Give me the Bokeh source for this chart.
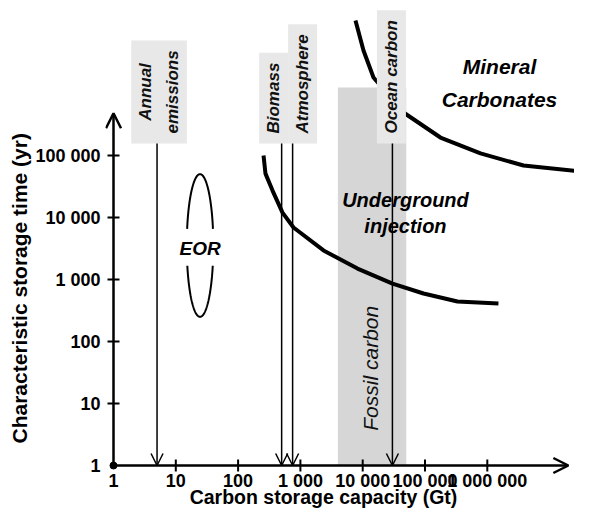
import numpy as np
from bokeh.plotting import figure
from bokeh.models import FixedTicker, Arrow, OpenHead, Title, ColumnDataSource
from bokeh.core.properties import value
from bokeh.embed import file_html
from bokeh.resources import INLINE

# ---------------- data ----------------
x_ticks = [1, 10, 100, 1000, 10000, 100000, 1000000]
x_tick_labels = ["1", "10", "100", "1 000", "10 000", "100 000", "1 000 000"]
y_ticks = [1, 10, 100, 1000, 10000, 100000]
y_tick_labels = ["1", "10", "100", "1 000", "10 000", "100 000"]

reservoir_labels = ["Annual\nemissions", "Biomass", "Atmosphere", "Ocean carbon"]
reservoir_capacity = [5, 500, 750, 30000]          # Gt

underground_capacity = [256, 275, 357, 516, 775, 2350, 8250, 30100, 94600, 332000, 1510000]
underground_time = [100000, 51000, 27200, 12000, 6900, 2940, 1500, 860, 594, 442, 410]

mineral_capacity = [7660, 10300, 14900, 45200, 177000, 778000, 3810000, 45000000]
mineral_time = [1.5e7, 4.94e6, 1.81e6, 494000, 195000, 108000, 69000, 53000]

eor_capacity = [15, 40]          # Gt
eor_time = [250, 50000]          # yr

fossil_capacity = [4000, 50000]  # Gt
fossil_time_max = 1.25e6         # yr

x_axis_max = 2.0e7
y_axis_max = 4.8e5

# ---------------- layout / style ----------------
FONT = "Liberation Sans"
label_base = 1.56e5
label_shift_px = [2, -8, 10, -1]

p = figure(width=574, height=508, x_axis_type="log", y_axis_type="log", x_axis_location=None,
           x_range=(10 ** (-8 / 62.3), 10 ** (461 / 62.3)), y_range=(10 ** (-43 / 62), 10 ** (465 / 62)),
           output_backend="svg", toolbar_location=None,
           min_border_left=105, min_border_bottom=0, min_border_top=0, min_border_right=0)
p.outline_line_color = None
p.grid.visible = False

# y axis: tick labels from the Bokeh axis
ya = p.yaxis[0]
ya.ticker = FixedTicker(ticks=y_ticks)
ya.major_label_overrides = {t: l for t, l in zip(y_ticks, y_tick_labels)}
ya.axis_line_color = None
ya.major_tick_in = 0
ya.major_tick_out = 0
ya.minor_tick_line_color = None
ya.major_label_standoff = 5
ya.major_label_text_font = FONT
ya.major_label_text_font_style = "bold"
ya.major_label_text_font_size = "18px"
ya.major_label_text_color = "black"

p.add_layout(Title(text="Characteristic storage time (yr)", align="left", offset=65, standoff=3,
                   text_font=FONT, text_font_style="bold", text_font_size="21px", text_color="black"), "left")

# fossil carbon band
p.quad(left=[fossil_capacity[0]], right=[fossil_capacity[1]], bottom=[1], top=[fossil_time_max],
       fill_color="#d6d6d6", line_color=None)
p.text(x=[np.sqrt(fossil_capacity[0] * fossil_capacity[1]) * 0.95], y=[37], text=["Fossil carbon"],
       angle=np.pi / 2, text_align="center", text_baseline="middle",
       text_font=value(FONT), text_font_style="italic", text_font_size="21px", text_color="#111111")

# curves
p.line(underground_capacity, underground_time, line_width=4, line_color="black")
p.line(mineral_capacity, mineral_time, line_width=4, line_color="black")

# EOR ellipse (in log space), broken around its label
cx, cy = np.mean(np.log10(eor_capacity)), np.mean(np.log10(eor_time))
ax_, ay_ = np.diff(np.log10(eor_capacity))[0] / 2, np.diff(np.log10(eor_time))[0] / 2
t = np.linspace(0, 2 * np.pi, 241)
s = np.sin(t)
ex = 10 ** (cx + ax_ * np.cos(t))
ey = 10 ** (cy + ay_ * s)
gap = (s > -0.28) & (s < 0.21)
ex[gap] = np.nan
ey[gap] = np.nan
p.line(ex, ey, line_width=2, line_color="black")
p.text(x=[10 ** cx], y=[10 ** (cy - 0.05)], text=["EOR"], text_align="center", text_baseline="middle",
       text_font=value(FONT), text_font_style="bold italic", text_font_size="19px", text_color="black")

# region labels
p.text(x=[1.57e6], y=[1.48e6], text=["Mineral\nCarbonates"], text_align="center", text_baseline="middle",
       text_font=value(FONT), text_font_style="bold italic", text_font_size="21px", text_line_height=1.4,
       text_color="black")
p.text(x=[48600], y=[11800], text=["Underground\ninjection"], text_align="center", text_baseline="middle",
       text_font=value(FONT), text_font_style="bold italic", text_font_size="20px", text_line_height=1.2,
       text_color="black")

# reservoir boxes
src = ColumnDataSource(dict(x=reservoir_capacity, y=[label_base] * len(reservoir_capacity),
                            text=reservoir_labels, dx=label_shift_px))
p.text(x="x", y="y", text="text", source=src, x_offset="dx", angle=np.pi / 2,
       text_align="center", text_baseline="middle", anchor=value("center_left"),
       padding=(10, 5), background_fill_color="#e8e8e8",
       text_font=value(FONT), text_font_style="bold italic", text_font_size="17px",
       text_line_height=1.4, text_color="#111111")

arrow_src = ColumnDataSource(dict(x0=reservoir_capacity, y0=[label_base] * len(reservoir_capacity),
                                  x1=reservoir_capacity, y1=[1] * len(reservoir_capacity)))
p.add_layout(Arrow(end=OpenHead(size=12, line_width=1.5, line_color="black"),
                   x_start="x0", y_start="y0", x_end="x1", y_end="y1", source=arrow_src,
                   line_width=1.5, line_color="black"))

# axes with arrow heads
p.add_layout(Arrow(end=OpenHead(size=15, line_width=2.5, line_color="black"),
                   x_start=1, y_start=1, x_end=1, y_end=y_axis_max, line_width=2.5, line_color="black"))
p.add_layout(Arrow(end=OpenHead(size=15, line_width=2.5, line_color="black"),
                   x_start=1, y_start=1, x_end=x_axis_max, y_end=1, line_width=2.5, line_color="black"))
# tick marks crossing the axes
p.scatter(x=[1] * (len(y_ticks) - 1), y=y_ticks[1:], marker="dash", size=12, line_width=2, line_color="black")
p.scatter(x=x_ticks[1:], y=[1] * (len(x_ticks) - 1), marker="dash", angle=np.pi / 2, size=12,
          line_width=2, line_color="black")
p.scatter(x=[1], y=[1], size=7, color="black")

# x tick labels and title
p.text(x=x_ticks, y=[1] * len(x_ticks), text=x_tick_labels, y_offset=15, text_align="center",
       text_baseline="middle", text_font=value(FONT), text_font_style="bold", text_font_size="18px",
       text_color="black")
p.text(x=[10 ** 3.371], y=[1], text=["Carbon storage capacity (Gt)"], y_offset=42, text_align="center",
       text_baseline="bottom", text_font=value(FONT), text_font_style="bold", text_font_size="19.5px",
       text_color="black")

open("out.html", "w").write(file_html(p, INLINE))
